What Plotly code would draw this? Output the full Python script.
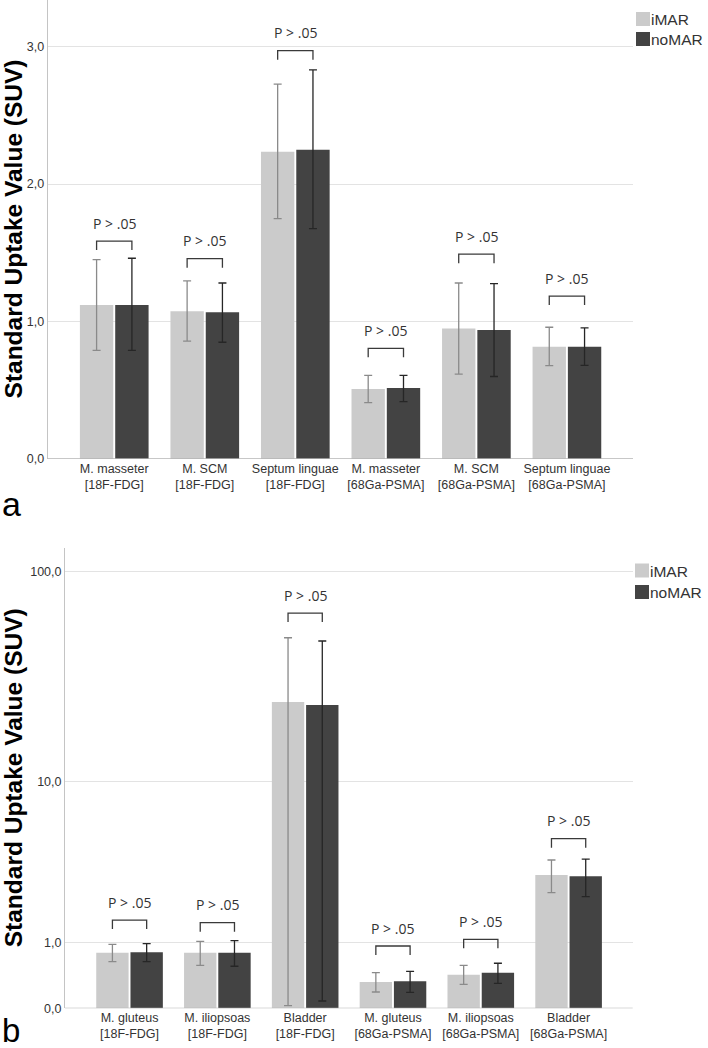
import numpy as np
import plotly.graph_objects as go

W, H = 708, 1048

# ---------------- data ----------------
cats_a = ["M. masseter<br>[18F-FDG]", "M. SCM<br>[18F-FDG]", "Septum linguae<br>[18F-FDG]",
          "M. masseter<br>[68Ga-PSMA]", "M. SCM<br>[68Ga-PSMA]", "Septum linguae<br>[68Ga-PSMA]"]
imar_a = [1.12, 1.074, 2.235, 0.509, 0.95, 0.817]
imar_a_hi = [1.45, 1.295, 2.727, 0.608, 1.28, 0.958]
imar_a_lo = [0.79, 0.858, 1.748, 0.41, 0.618, 0.679]
nomar_a = [1.12, 1.067, 2.25, 0.516, 0.938, 0.817]
nomar_a_hi = [1.46, 1.28, 2.83, 0.608, 1.275, 0.953]
nomar_a_lo = [0.79, 0.849, 1.675, 0.417, 0.60, 0.681]
bracket_a = [1.585, 1.457, 2.97, 0.805, 1.49, 1.185]
yticks_a = [0.0, 1.0, 2.0, 3.0]
yticklabels_a = ["0,0", "1,0", "2,0", "3,0"]

cats_b = ["M. gluteus<br>[18F-FDG]", "M. iliopsoas<br>[18F-FDG]", "Bladder<br>[18F-FDG]",
          "M. gluteus<br>[68Ga-PSMA]", "M. iliopsoas<br>[68Ga-PSMA]", "Bladder<br>[68Ga-PSMA]"]
imar_b = [0.80, 0.80, 24.4, 0.32, 0.426, 3.09]
imar_b_hi = [0.966, 1.029, 49.1, 0.457, 0.574, 3.79]
imar_b_lo = [0.636, 0.574, 0.028, 0.188, 0.288, 2.39]
nomar_b = [0.807, 0.80, 23.6, 0.33, 0.457, 3.03]
nomar_b_hi = [0.979, 1.042, 47.4, 0.478, 0.609, 3.83]
nomar_b_lo = [0.636, 0.559, 0.08, 0.184, 0.302, 2.25]
bracket_b = [1.54, 1.47, 64.0, 0.931, 1.073, 5.0]
yticks_b = [0.0, 1.0, 10.0, 100.0]
yticklabels_b = ["0,0", "1,0", "10,0", "100,0"]

series_names = ["iMAR", "noMAR"]
p_label = "P > .05"

# ---------------- styles ----------------
C_LIGHT = "#cbcbcb"
C_DARK = "#434343"
E_LIGHT = "#8a8a8a"
E_DARK = "#262626"
TXT = "#333333"
FONT = "Liberation Sans, Arial, sans-serif"
PFONT = "Open Sans, sans-serif"
BARGAP = 0.22
GROUPGAP = 0.055

def tf(v):
    return np.log10(1.0 + np.asarray(v, dtype=float))

fig = go.Figure()

# panel geometry (pixels)
A = dict(x0=47.7, x1=633, ytop=0, ybot=459, yr=[0, 459 / 137.5])
B = dict(x0=65, x1=632.7, ytop=548.3, ybot=1008.3, yr=[0, 460 / 218.0])
XR = [-0.735, 5.73]

def add_panel(xa, ya, vals_i, hi_i, lo_i, vals_n, hi_n, lo_n, brackets, transform, geom):
    xs = list(range(len(vals_i)))
    f = transform
    for name, v, hi, lo, col, ecol in [
        (series_names[0], vals_i, hi_i, lo_i, C_LIGHT, E_LIGHT),
        (series_names[1], vals_n, hi_n, lo_n, C_DARK, E_DARK),
    ]:
        fv = f(v)
        fig.add_trace(go.Bar(
            x=xs, y=fv, name=name, marker=dict(color=col, line=dict(width=0)),
            error_y=dict(type="data", symmetric=False,
                         array=f(hi) - fv, arrayminus=fv - f(lo),
                         color=ecol, thickness=1.3, width=4),
            xaxis=xa, yaxis=ya, showlegend=False, offsetgroup=name,
        ))
    slot = (1 - BARGAP) / 2
    off = slot / 2
    units_per_px = (geom["yr"][1] - geom["yr"][0]) / (geom["ybot"] - geom["ytop"])
    leg = 9 * units_per_px
    for i, b in enumerate(brackets):
        yb = float(f([b])[0])
        fig.add_trace(go.Scatter(
            x=[i - off, i - off, i + off, i + off],
            y=[yb - leg, yb, yb, yb - leg],
            mode="lines", line=dict(color="#3a3a3a", width=1.3),
            xaxis=xa, yaxis=ya, showlegend=False, hoverinfo="skip",
        ))
        fig.add_annotation(x=i, y=yb, xref=xa, yref=ya, text=p_label,
                           showarrow=False, yanchor="middle", yshift=18,
                           font=dict(family=PFONT, size=14, color=TXT))

add_panel("x", "y", imar_a, imar_a_hi, imar_a_lo, nomar_a, nomar_a_hi, nomar_a_lo,
          bracket_a, lambda v: np.asarray(v, dtype=float), A)
add_panel("x2", "y2", imar_b, imar_b_hi, imar_b_lo, nomar_b, nomar_b_hi, nomar_b_lo,
          bracket_b, tf, B)

def dom_x(g):
    return [g["x0"] / W, g["x1"] / W]

def dom_y(g):
    return [1 - g["ybot"] / H, 1 - g["ytop"] / H]

xcommon = dict(range=XR, showgrid=False, zeroline=False, showline=False, ticks="",
               automargin=False,
               tickfont=dict(family=FONT, size=12.5, color=TXT), tickangle=0)
ycommon = dict(showgrid=True, gridcolor="#e3e3e3", gridwidth=1, zeroline=False,
               showline=True, linecolor="#c4c4c4", linewidth=1, ticks="",
               automargin=False,
               tickfont=dict(family=FONT, size=12.5, color=TXT))

fig.update_layout(
    width=W, height=H, margin=dict(l=0, r=0, t=0, b=0, pad=0, autoexpand=False),
    paper_bgcolor="white", plot_bgcolor="white",
    barmode="group", bargap=BARGAP, bargroupgap=GROUPGAP,
    xaxis=dict(domain=dom_x(A), anchor="y", tickvals=list(range(6)), ticktext=cats_a, **xcommon),
    yaxis=dict(domain=dom_y(A), anchor="x", range=A["yr"], tickvals=yticks_a,
               ticktext=yticklabels_a, **ycommon),
    xaxis2=dict(domain=dom_x(B), anchor="y2", tickvals=list(range(6)), ticktext=cats_b, **xcommon),
    yaxis2=dict(domain=dom_y(B), anchor="x2", range=B["yr"], tickvals=list(tf(yticks_b)),
                ticktext=yticklabels_b, **ycommon),
)

for xa, ya in [("x", "y"), ("x2", "y2")]:
    fig.add_shape(type="line", xref=f"{xa} domain", yref=ya, x0=0, x1=1, y0=0, y1=0,
                  line=dict(color="#b5b5b5", width=1.3))

# y-axis titles
for yc in [(A["ytop"] + A["ybot"]) / 2, (B["ytop"] + B["ybot"]) / 2]:
    fig.add_annotation(xref="paper", yref="paper", x=13 / W, y=1 - yc / H,
                       text="<b>Standard Uptake Value (SUV)</b>", textangle=-90,
                       showarrow=False, xanchor="center", yanchor="middle",
                       font=dict(family=FONT, size=24.5, color="black"))

# panel letters
fig.add_annotation(xref="paper", yref="paper", x=0, y=1 - 504 / H, text="a", showarrow=False,
                   xanchor="left", yanchor="middle", font=dict(family=FONT, size=34, color="black"))
fig.add_annotation(xref="paper", yref="paper", x=0, y=1 - 1030 / H, text="b", showarrow=False,
                   xanchor="left", yanchor="middle", font=dict(family=FONT, size=33, color="black"))

# legends
for (sx, ys) in [(636, [12, 32]), (635, [563.5, 585])]:
    for k, (name, col) in enumerate(zip(series_names, [C_LIGHT, C_DARK])):
        y0 = ys[k]
        fig.add_shape(type="rect", xref="paper", yref="paper",
                      x0=sx / W, x1=(sx + 14) / W, y0=1 - (y0 + 14) / H, y1=1 - y0 / H,
                      fillcolor=col, line=dict(width=0))
        fig.add_annotation(xref="paper", yref="paper", x=(sx + 14) / W, y=1 - (y0 + 7.5) / H,
                           text=name, showarrow=False, xanchor="left", yanchor="middle",
                           borderpad=0,
                           font=dict(family=FONT, size=15.5, color=TXT))

fig.write_html("out.html", config={"displayModeBar": False},
               post_script="document.body.style.margin='0px';document.body.style.overflow='hidden';")
